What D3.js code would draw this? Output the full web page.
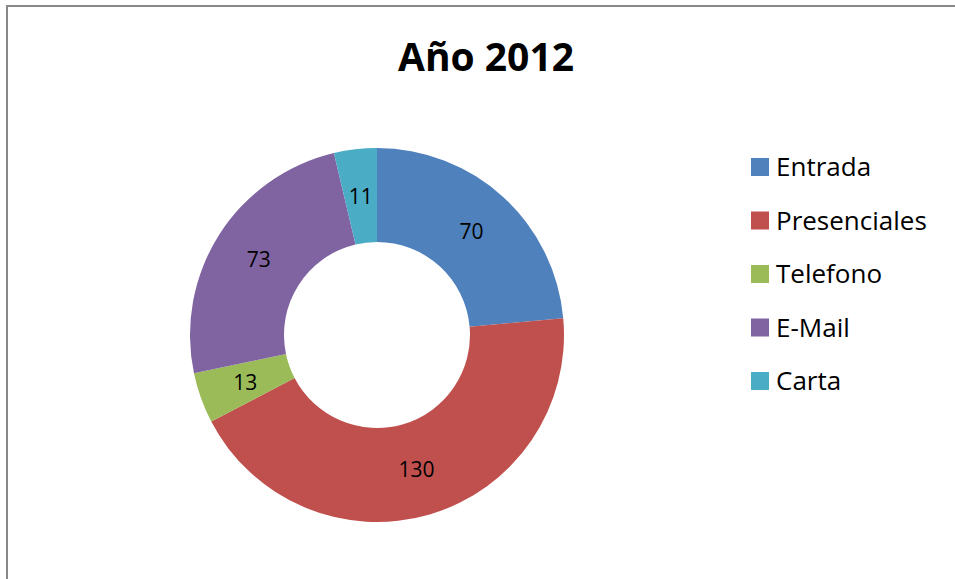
<!DOCTYPE html>
<html>
<head>
<meta charset="utf-8">
<script src="https://cdn.jsdelivr.net/npm/d3@7"></script>
<style>
  body { margin: 0; background: #fff; }
  svg { font-family: "Open Sans", Lato, sans-serif; }
</style>
</head>
<body>
<div id="chart"></div>
<script>
// Data
const categories = ['Entrada', 'Presenciales', 'Telefono', 'E-Mail', 'Carta'];
const values = [70, 130, 13, 73, 11];
const colors = ['#4F81BD', '#C0504D', '#9BBB59', '#8064A2', '#4BACC6'];
const title = 'Año 2012';

const width = 955, height = 579;
const cx = 377, cy = 335;
const outerR = 187, innerR = 93;

const svg = d3.select('#chart').append('svg')
    .attr('width', width)
    .attr('height', height);

// Chart border (left and top visible)
svg.append('path')
    .attr('d', `M7,${height + 5} L7,6 L${width + 5},6`)
    .attr('fill', 'none')
    .attr('stroke', '#888')
    .attr('stroke-width', 2);

// Title
svg.append('text')
    .attr('x', 486)
    .attr('y', 71)
    .attr('text-anchor', 'middle')
    .attr('font-size', 39)
    .attr('font-weight', 'bold')
    .text(title);

// Donut
const data = categories.map((c, i) => ({ name: c, value: values[i], color: colors[i] }));
const pie = d3.pie().value(d => d.value).sort(null);
const arc = d3.arc().innerRadius(innerR).outerRadius(outerR);

const g = svg.append('g').attr('transform', `translate(${cx}, ${cy})`);
const arcs = pie(data);

g.selectAll('path.slice')
    .data(arcs)
    .join('path')
    .classed('slice', true)
    .attr('d', arc)
    .attr('fill', d => d.data.color);

g.selectAll('text.label')
    .data(arcs)
    .join('text')
    .classed('label', true)
    .attr('transform', d => `translate(${arc.centroid(d)})`)
    .attr('text-anchor', 'middle')
    .attr('dy', '0.36em')
    .attr('font-size', 21)
    .attr('fill', '#000')
    .text(d => d.data.value);

// Legend
const legend = svg.append('g').attr('transform', 'translate(751, 158)');
const row = legend.selectAll('g')
    .data(data)
    .join('g')
    .attr('transform', (d, i) => `translate(0, ${i * 53.5})`);

row.append('rect')
    .attr('width', 18)
    .attr('height', 18)
    .attr('fill', d => d.color);

row.append('text')
    .attr('x', 25)
    .attr('y', 9)
    .attr('dy', '0.36em')
    .attr('font-size', 26)
    .attr('fill', '#000')
    .text(d => d.name);
</script>
</body>
</html>
